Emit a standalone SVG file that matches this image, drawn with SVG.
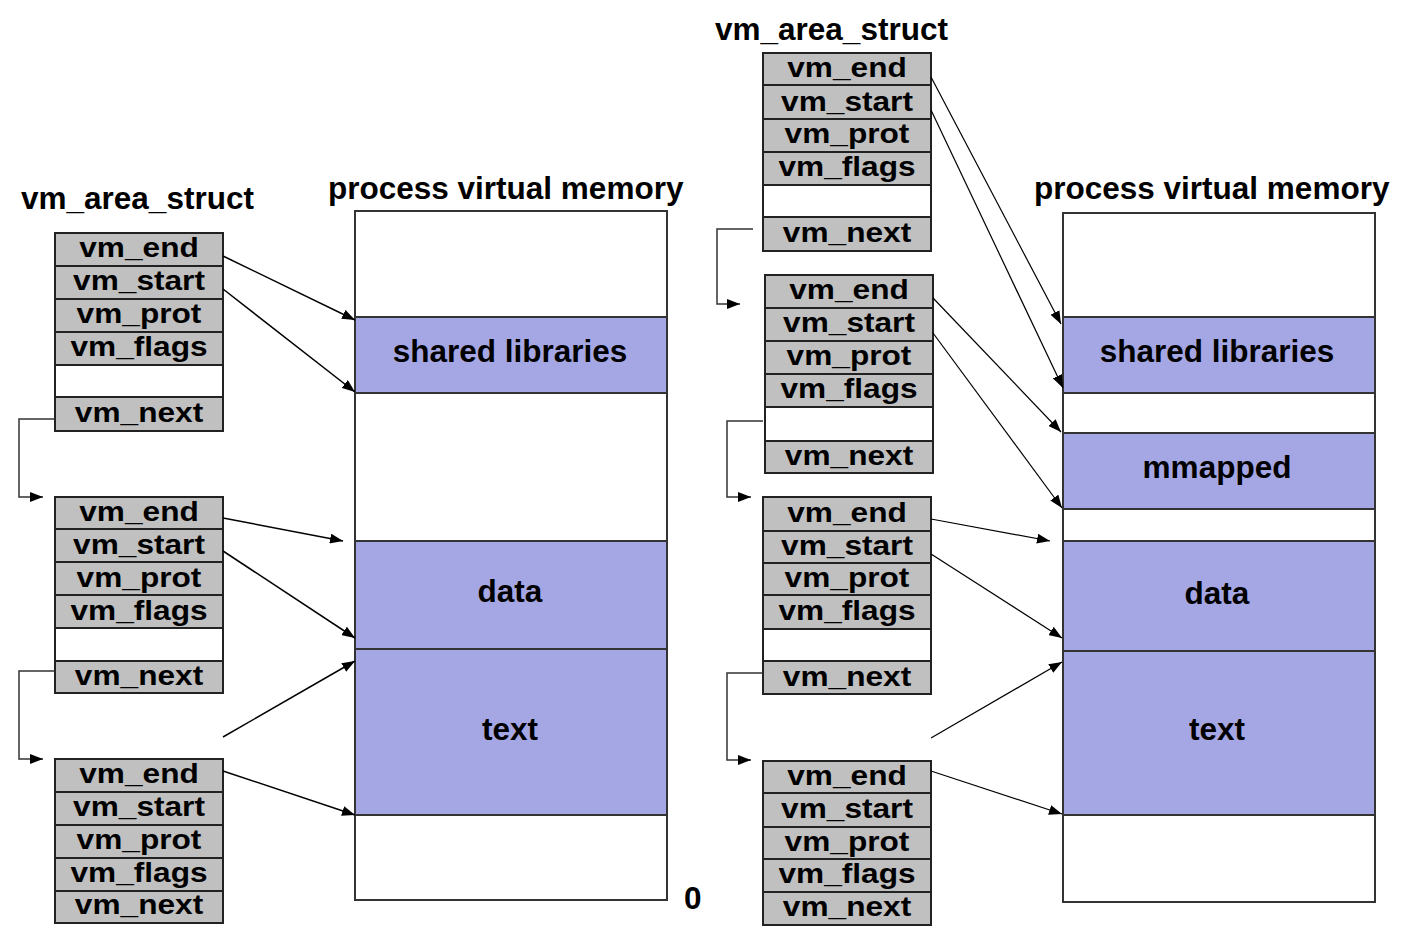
<svg xmlns="http://www.w3.org/2000/svg" width="1414" height="944" viewBox="0 0 1414 944">
<style>
text{font-family:"Liberation Sans",Arial,sans-serif;font-weight:bold;fill:#000}
.t{font-size:31.5px;text-anchor:middle}
.r{font-size:28px;text-anchor:middle}
.h{font-size:31.5px}
.row{fill:#c0c0c0;stroke:#222;stroke-width:2}
.blank{fill:#fff;stroke:#222;stroke-width:2}
.mem{fill:#fff;stroke:#333;stroke-width:2}
.band{fill:#a5a7e5;stroke:#333;stroke-width:2}
.ln{stroke:#000;stroke-width:1.5;fill:none}
.lnr{stroke:#000;stroke-width:1.2;fill:none}
.nx{stroke:#333;stroke-width:1.5;fill:none}
</style>
<defs>
<marker id="ah" viewBox="0 0 13 10" refX="13" refY="5" markerWidth="13" markerHeight="10" markerUnits="userSpaceOnUse" orient="auto">
<path d="M0,0 L13,5 L0,10 z" fill="#000"/>
</marker>
</defs>
<g id="titles">
<text class="h" x="21" y="209">vm_area_struct</text>
<text class="h" x="328" y="199">process virtual memory</text>
<text class="h" x="715" y="40">vm_area_struct</text>
<text class="h" x="1034" y="199">process virtual memory</text>
<text class="h" x="684" y="909">0</text>
</g>
<g id="mem-left">
<rect class="mem" x="355" y="211" width="312" height="689"/>
<rect class="band" x="355" y="317" width="312" height="76"/>
<rect class="band" x="355" y="541" width="312" height="108"/>
<rect class="band" x="355" y="649" width="312" height="166"/>
<text class="t" x="510" y="362">shared libraries</text>
<text class="t" x="510" y="602">data</text>
<text class="t" x="510" y="740">text</text>
</g>
<g id="mem-right">
<rect class="mem" x="1063" y="213" width="312" height="689"/>
<rect class="band" x="1063" y="317" width="312" height="76"/>
<rect class="band" x="1063" y="433" width="312" height="76"/>
<rect class="band" x="1063" y="541" width="312" height="110"/>
<rect class="band" x="1063" y="651" width="312" height="164"/>
<text class="t" x="1217" y="362">shared libraries</text>
<text class="t" x="1217" y="478">mmapped</text>
<text class="t" x="1217" y="604">data</text>
<text class="t" x="1217" y="740">text</text>
</g>
<g id="struct-l1">
<rect class="row" x="55" y="233" width="168" height="33"/>
<rect class="row" x="55" y="266" width="168" height="33"/>
<rect class="row" x="55" y="299" width="168" height="33"/>
<rect class="row" x="55" y="332" width="168" height="33"/>
<rect class="blank" x="55" y="365" width="168" height="32"/>
<rect class="row" x="55" y="397" width="168" height="34"/>
<text class="r" transform="translate(139,257) scale(1.13,1)">vm_end</text>
<text class="r" transform="translate(139,290) scale(1.13,1)">vm_start</text>
<text class="r" transform="translate(139,323) scale(1.13,1)">vm_prot</text>
<text class="r" transform="translate(139,356) scale(1.13,1)">vm_flags</text>
<text class="r" transform="translate(139,422) scale(1.13,1)">vm_next</text>
</g>
<g id="struct-l2">
<rect class="row" x="55" y="497" width="168" height="32"/>
<rect class="row" x="55" y="529" width="168" height="33"/>
<rect class="row" x="55" y="562" width="168" height="33"/>
<rect class="row" x="55" y="595" width="168" height="33"/>
<rect class="blank" x="55" y="628" width="168" height="33"/>
<rect class="row" x="55" y="661" width="168" height="32"/>
<text class="r" transform="translate(139,521) scale(1.13,1)">vm_end</text>
<text class="r" transform="translate(139,554) scale(1.13,1)">vm_start</text>
<text class="r" transform="translate(139,587) scale(1.13,1)">vm_prot</text>
<text class="r" transform="translate(139,620) scale(1.13,1)">vm_flags</text>
<text class="r" transform="translate(139,685) scale(1.13,1)">vm_next</text>
</g>
<g id="struct-l3">
<rect class="row" x="55" y="759" width="168" height="33"/>
<rect class="row" x="55" y="792" width="168" height="33"/>
<rect class="row" x="55" y="825" width="168" height="33"/>
<rect class="row" x="55" y="858" width="168" height="33"/>
<rect class="row" x="55" y="891" width="168" height="32"/>
<text class="r" transform="translate(139,783) scale(1.13,1)">vm_end</text>
<text class="r" transform="translate(139,816) scale(1.13,1)">vm_start</text>
<text class="r" transform="translate(139,849) scale(1.13,1)">vm_prot</text>
<text class="r" transform="translate(139,882) scale(1.13,1)">vm_flags</text>
<text class="r" transform="translate(139,914) scale(1.13,1)">vm_next</text>
</g>
<g id="struct-r1">
<rect class="row" x="763" y="53" width="168" height="32"/>
<rect class="row" x="763" y="85" width="168" height="34"/>
<rect class="row" x="763" y="119" width="168" height="33"/>
<rect class="row" x="763" y="152" width="168" height="33"/>
<rect class="blank" x="763" y="185" width="168" height="32"/>
<rect class="row" x="763" y="217" width="168" height="34"/>
<text class="r" transform="translate(847,77) scale(1.13,1)">vm_end</text>
<text class="r" transform="translate(847,111) scale(1.13,1)">vm_start</text>
<text class="r" transform="translate(847,143) scale(1.13,1)">vm_prot</text>
<text class="r" transform="translate(847,176) scale(1.13,1)">vm_flags</text>
<text class="r" transform="translate(847,242) scale(1.13,1)">vm_next</text>
</g>
<g id="struct-r2">
<rect class="row" x="765" y="275" width="168" height="33"/>
<rect class="row" x="765" y="308" width="168" height="33"/>
<rect class="row" x="765" y="341" width="168" height="33"/>
<rect class="row" x="765" y="374" width="168" height="33"/>
<rect class="blank" x="765" y="407" width="168" height="34"/>
<rect class="row" x="765" y="441" width="168" height="32"/>
<text class="r" transform="translate(849,299) scale(1.13,1)">vm_end</text>
<text class="r" transform="translate(849,332) scale(1.13,1)">vm_start</text>
<text class="r" transform="translate(849,365) scale(1.13,1)">vm_prot</text>
<text class="r" transform="translate(849,398) scale(1.13,1)">vm_flags</text>
<text class="r" transform="translate(849,465) scale(1.13,1)">vm_next</text>
</g>
<g id="struct-r3">
<rect class="row" x="763" y="497" width="168" height="34"/>
<rect class="row" x="763" y="531" width="168" height="32"/>
<rect class="row" x="763" y="563" width="168" height="32"/>
<rect class="row" x="763" y="595" width="168" height="34"/>
<rect class="blank" x="763" y="629" width="168" height="32"/>
<rect class="row" x="763" y="661" width="168" height="33"/>
<text class="r" transform="translate(847,522) scale(1.13,1)">vm_end</text>
<text class="r" transform="translate(847,555) scale(1.13,1)">vm_start</text>
<text class="r" transform="translate(847,587) scale(1.13,1)">vm_prot</text>
<text class="r" transform="translate(847,620) scale(1.13,1)">vm_flags</text>
<text class="r" transform="translate(847,686) scale(1.13,1)">vm_next</text>
</g>
<g id="struct-r4">
<rect class="row" x="763" y="761" width="168" height="32"/>
<rect class="row" x="763" y="793" width="168" height="34"/>
<rect class="row" x="763" y="827" width="168" height="32"/>
<rect class="row" x="763" y="859" width="168" height="33"/>
<rect class="row" x="763" y="892" width="168" height="33"/>
<text class="r" transform="translate(847,785) scale(1.13,1)">vm_end</text>
<text class="r" transform="translate(847,818) scale(1.13,1)">vm_start</text>
<text class="r" transform="translate(847,851) scale(1.13,1)">vm_prot</text>
<text class="r" transform="translate(847,883) scale(1.13,1)">vm_flags</text>
<text class="r" transform="translate(847,916) scale(1.13,1)">vm_next</text>
</g>
<g id="connectors">
<polyline class="nx" points="55,419 19,419 19,497 43,497" marker-end="url(#ah)"/>
<polyline class="nx" points="55,671 19,671 19,759 43,759" marker-end="url(#ah)"/>
<polyline class="nx" points="753,229 717,229 717,304 740,304" marker-end="url(#ah)"/>
<polyline class="nx" points="763,421 727,421 727,497 751,497" marker-end="url(#ah)"/>
<polyline class="nx" points="763,673 727,673 727,760 751,760" marker-end="url(#ah)"/>
<line class="ln" x1="223" y1="256" x2="355" y2="320" marker-end="url(#ah)"/>
<line class="ln" x1="223" y1="289" x2="355" y2="392" marker-end="url(#ah)"/>
<line class="ln" x1="223" y1="518" x2="343" y2="541" marker-end="url(#ah)"/>
<line class="ln" x1="223" y1="551" x2="355" y2="638" marker-end="url(#ah)"/>
<line class="ln" x1="223" y1="737" x2="355" y2="661" marker-end="url(#ah)"/>
<line class="ln" x1="223" y1="771" x2="355" y2="815" marker-end="url(#ah)"/>
<line class="lnr" x1="931" y1="77" x2="1061" y2="324" marker-end="url(#ah)"/>
<line class="lnr" x1="931" y1="110" x2="1063" y2="388" marker-end="url(#ah)"/>
<line class="lnr" x1="933" y1="298" x2="1061" y2="432" marker-end="url(#ah)"/>
<line class="lnr" x1="933" y1="333" x2="1062" y2="508" marker-end="url(#ah)"/>
<line class="lnr" x1="931" y1="519" x2="1050" y2="541" marker-end="url(#ah)"/>
<line class="lnr" x1="931" y1="554" x2="1062" y2="638" marker-end="url(#ah)"/>
<line class="lnr" x1="931" y1="738" x2="1062" y2="662" marker-end="url(#ah)"/>
<line class="lnr" x1="931" y1="771" x2="1062" y2="814" marker-end="url(#ah)"/>
</g>
</svg>
